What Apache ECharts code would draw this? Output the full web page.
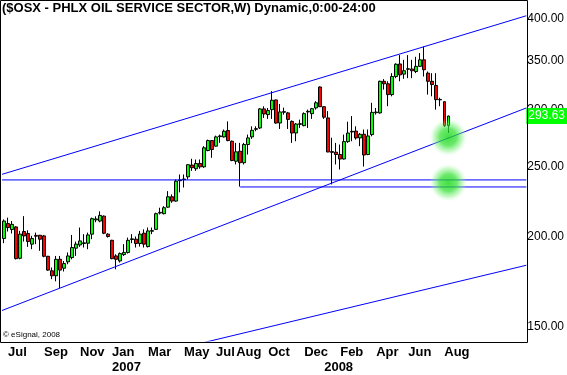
<!DOCTYPE html>
<html><head><meta charset="utf-8">
<script src="https://cdn.jsdelivr.net/npm/echarts@6/dist/echarts.min.js"></script>
<style>html,body{margin:0;padding:0;background:#fff}#c{width:567px;height:375px}</style>
</head><body><div id="c"></div>
<script>
// ---- data ----
const firstWeek = [2006, 5, 26];   // week of 26 Jun 2006 (UTC y, m0, d)
const weekCount = 131;             // weeks shown on the axis (incl. empty future weeks)
const opens  = [198.8,208.5,204.6,206.3,186.7,203.3,202.0,195.3,200.8,200.9,200.5,187.9,179.4,176.6,186.1,180.9,184.6,187.1,192.8,194.8,195.7,195.9,201.6,211.0,210.2,213.5,201.6,197.7,188.1,185.1,188.9,190.2,198.2,198.4,195.7,202.2,193.8,203.5,204.7,215.6,215.2,219.7,227.1,224.0,239.0,239.8,242.0,251.2,248.3,252.5,249.8,263.1,271.6,266.8,275.0,274.8,280.4,271.0,254.3,262.5,253.1,268.2,274.8,281.5,282.7,300.4,295.0,299.7,309.1,287.2,297.2,296.6,288.7,278.2,286.0,284.8,297.5,295.9,301.3,322.1,302.5,291.9,262.2,261.7,259.8,256.1,270.7,279.1,279.9,273.9,277.1,259.8,276.8,296.8,296.6,328.0,325.4,314.4,333.0,346.6,335.6,340.8,341.1,338.4,344.0,351.2,336.6,328.0,323.7,309.6,307.4,284.8];
const closes = [210.2,205.9,208.0,186.5,201.6,200.5,196.9,198.8,200.3,198.4,187.9,179.8,176.6,186.1,179.8,183.6,188.1,193.2,195.3,197.3,196.1,201.1,211.8,211.6,214.0,202.2,200.1,186.5,186.1,189.5,190.2,197.7,198.6,195.7,201.6,195.3,203.7,203.9,215.2,216.1,219.3,227.1,224.0,238.7,239.6,240.3,251.5,249.1,252.5,249.8,265.4,271.6,264.0,274.8,275.6,279.8,271.6,254.9,262.0,253.1,268.2,273.9,280.6,282.1,300.4,295.6,298.8,308.8,287.2,297.5,297.8,290.5,278.2,286.3,286.6,295.9,298.1,300.6,306.3,302.5,292.6,261.9,261.6,259.8,256.1,270.7,278.2,279.7,273.9,277.1,259.4,275.6,297.1,297.4,328.0,325.4,314.4,333.0,346.3,334.8,339.2,341.4,339.2,344.0,351.2,340.3,328.0,324.7,309.4,309.2,284.8,293.63];
const lows   = [195.9,203.3,202.0,186.0,186.1,196.9,193.6,192.2,195.3,191.2,187.3,179.4,174.7,173.5,169.8,179.0,183.2,186.1,188.1,193.6,193.2,192.2,198.4,209.4,209.4,201.6,199.4,186.1,180.3,184.2,188.1,189.5,195.9,193.2,193.8,193.2,193.2,201.6,204.3,214.7,214.7,219.3,222.8,223.5,230.3,233.9,240.0,246.6,246.6,248.3,249.0,262.5,257.1,266.5,269.6,274.2,271.0,254.3,251.7,234.5,251.7,259.8,273.1,279.8,281.8,291.9,291.0,291.0,286.6,281.8,295.0,281.8,269.6,271.0,282.7,284.2,282.7,291.0,299.7,302.2,291.0,261.7,236.2,251.7,247.7,255.7,269.6,271.0,272.4,266.8,250.0,259.2,275.3,295.0,295.9,319.4,303.0,312.7,331.3,328.0,330.6,331.3,331.3,336.6,343.3,333.0,314.4,312.7,299.7,303.0,283.6,278.2];
const highs  = [211.3,212.5,210.2,206.8,203.7,213.5,204.1,200.5,202.6,201.1,201.1,188.1,181.3,188.1,188.1,185.1,190.2,201.1,196.9,205.9,201.6,202.6,212.5,213.4,216.8,214.0,202.2,198.0,189.1,190.2,195.3,199.4,201.6,200.1,203.7,204.7,205.9,205.9,215.9,219.3,220.4,231.2,228.8,239.9,243.8,243.8,251.8,256.3,255.7,255.7,266.8,272.4,272.0,275.9,276.8,281.3,288.7,271.6,269.6,269.6,269.6,276.8,284.2,284.2,301.3,302.9,301.3,317.9,309.4,305.1,301.6,297.5,289.6,287.2,290.3,297.1,299.7,301.3,307.9,322.7,302.9,298.3,274.1,269.6,268.2,276.8,288.4,293.6,284.2,278.2,281.3,281.3,306.3,301.3,328.7,330.3,328.0,336.6,347.4,356.5,351.2,356.5,351.2,354.6,358.8,366.3,338.4,336.6,336.6,311.3,307.4,294.0];
const monthLabels = [['2006-07-03','Jul'],['2006-09-04','Sep'],['2006-11-06','Nov'],['2007-01-01','Jan'],['2007-03-05','Mar'],['2007-05-07','May'],['2007-07-02','Jul'],['2007-08-06','Aug'],['2007-10-01','Oct'],['2007-12-03','Dec'],['2008-02-04','Feb'],['2008-04-07','Apr'],['2008-06-02','Jun'],['2008-08-04','Aug']];
const yearLabels = [['2007-01-01','2007'],['2008-01-07','2008']];
const yTicks = [150, 200, 250, 300, 350, 400];
const yRange = [143.47, 424.9];
const lastPrice = 293.63;
// trend / support lines: [week index, price]
const upperChannel  = [[-0.5, 243.9], [130.5, 404.1]];
const middleChannel = [[-0.5, 158.1], [130.5, 301.3]];
const lowerChannel  = [[-0.5, 122.4], [130.5, 182.6]];
const supportA      = [[-0.5, 239.6], [130.5, 239.6]];
const supportB      = [[59, 234.3], [130.5, 234.3]];
const glowPoints    = [[111, 274.5], [111, 237.5]];

// ---- build ----
const weeks = [];
const t0 = Date.UTC(firstWeek[0], firstWeek[1], firstWeek[2]);
for (let i = 0; i < weekCount; i++) weeks.push(new Date(t0 + i * 7 * 864e5).toISOString().slice(0, 10));
const labelMap = {};
monthLabels.forEach(([d, m]) => { labelMap[d] = m; });
yearLabels.forEach(([d, y]) => { labelMap[d] = (labelMap[d] || '') + '\n' + y; });
const candles = opens.map((o, i) => [o, closes[i], lows[i], highs[i]]);

const FONT = 'Liberation Sans, Arial, sans-serif';
const chart = echarts.init(document.getElementById('c'), null, {renderer: 'canvas'});
const lineSeries = (data, z) => ({
  type: 'line', xAxisIndex: 1, yAxisIndex: 0, data, symbol: 'none', silent: true, z: z || 3,
  lineStyle: {color: '#0000ff', width: 1}, animation: false, clip: true
});
chart.setOption({
  animation: false,
  backgroundColor: '#fff',
  title: {text: '($OSX - PHLX OIL SERVICE SECTOR,W) Dynamic,0:00-24:00', left: 2, top: 2, padding: 0,
    textStyle: {fontSize: 13, fontWeight: 'bold', color: '#000', fontFamily: FONT}},
  grid: {left: 2, right: 40, top: 0, bottom: 33, containLabel: false},
  xAxis: [
    {type: 'category', data: weeks, boundaryGap: true,
     axisLine: {show: false}, axisTick: {show: false}, splitLine: {show: false},
     axisLabel: {interval: (i, v) => labelMap[v] !== undefined, formatter: v => labelMap[v] || '',
       align: 'left', margin: 4, fontSize: 13, lineHeight: 15, fontWeight: 'bold', color: '#000', fontFamily: FONT}},
    {type: 'value', min: -0.5, max: weekCount - 0.5, show: false}
  ],
  yAxis: {type: 'log', logBase: 10, min: yRange[0], max: yRange[1], position: 'right',
    axisLine: {show: false}, axisTick: {show: false}, splitLine: {show: false},
    axisLabel: {customValues: yTicks, formatter: v => Number(v).toFixed(2), margin: 1, fontSize: 12, color: '#000', fontFamily: FONT}},
  graphic: [
    {type: 'rect', shape: {x: 0.5, y: 0.5, width: 527, height: 342}, style: {fill: 'none', stroke: '#000', lineWidth: 1}, silent: true, z: 100},
    {type: 'text', left: 3, top: 331, style: {text: '\u00a9 eSignal, 2008', fontSize: 8, fill: '#000', fontFamily: FONT}, silent: true, z: 100}
  ],
  series: [
    {type: 'candlestick', xAxisIndex: 0, yAxisIndex: 0, data: candles, barWidth: 3, z: 2,
     itemStyle: {color: '#00ff00', color0: '#ff0000', borderColor: '#000', borderColor0: '#000', borderWidth: 1},
     markLine: {silent: true, animation: false, symbol: ['none', 'none'], data: [{yAxis: lastPrice}],
       lineStyle: {color: 'rgba(0,0,0,0)', width: 0},
       label: {position: 'end', distance: 0, formatter: () => lastPrice.toFixed(2), backgroundColor: '#00ff00',
         color: '#fff', fontSize: 12, padding: [2, 2, 2, 2], fontFamily: FONT}}},
    lineSeries(upperChannel), lineSeries(middleChannel), lineSeries(lowerChannel),
    lineSeries(supportA), lineSeries(supportB),
    {type: 'scatter', xAxisIndex: 1, yAxisIndex: 0, data: glowPoints, symbol: 'circle', symbolSize: 38, silent: true, z: 6,
     itemStyle: {color: {type: 'radial', x: 0.5, y: 0.5, r: 0.5, colorStops: [
       {offset: 0, color: 'rgba(20,215,20,1)'}, {offset: 0.45, color: 'rgba(50,225,50,0.9)'},
       {offset: 0.75, color: 'rgba(120,240,120,0.5)'}, {offset: 1, color: 'rgba(210,255,210,0)'}]}}}
  ]
});
</script></body></html>
